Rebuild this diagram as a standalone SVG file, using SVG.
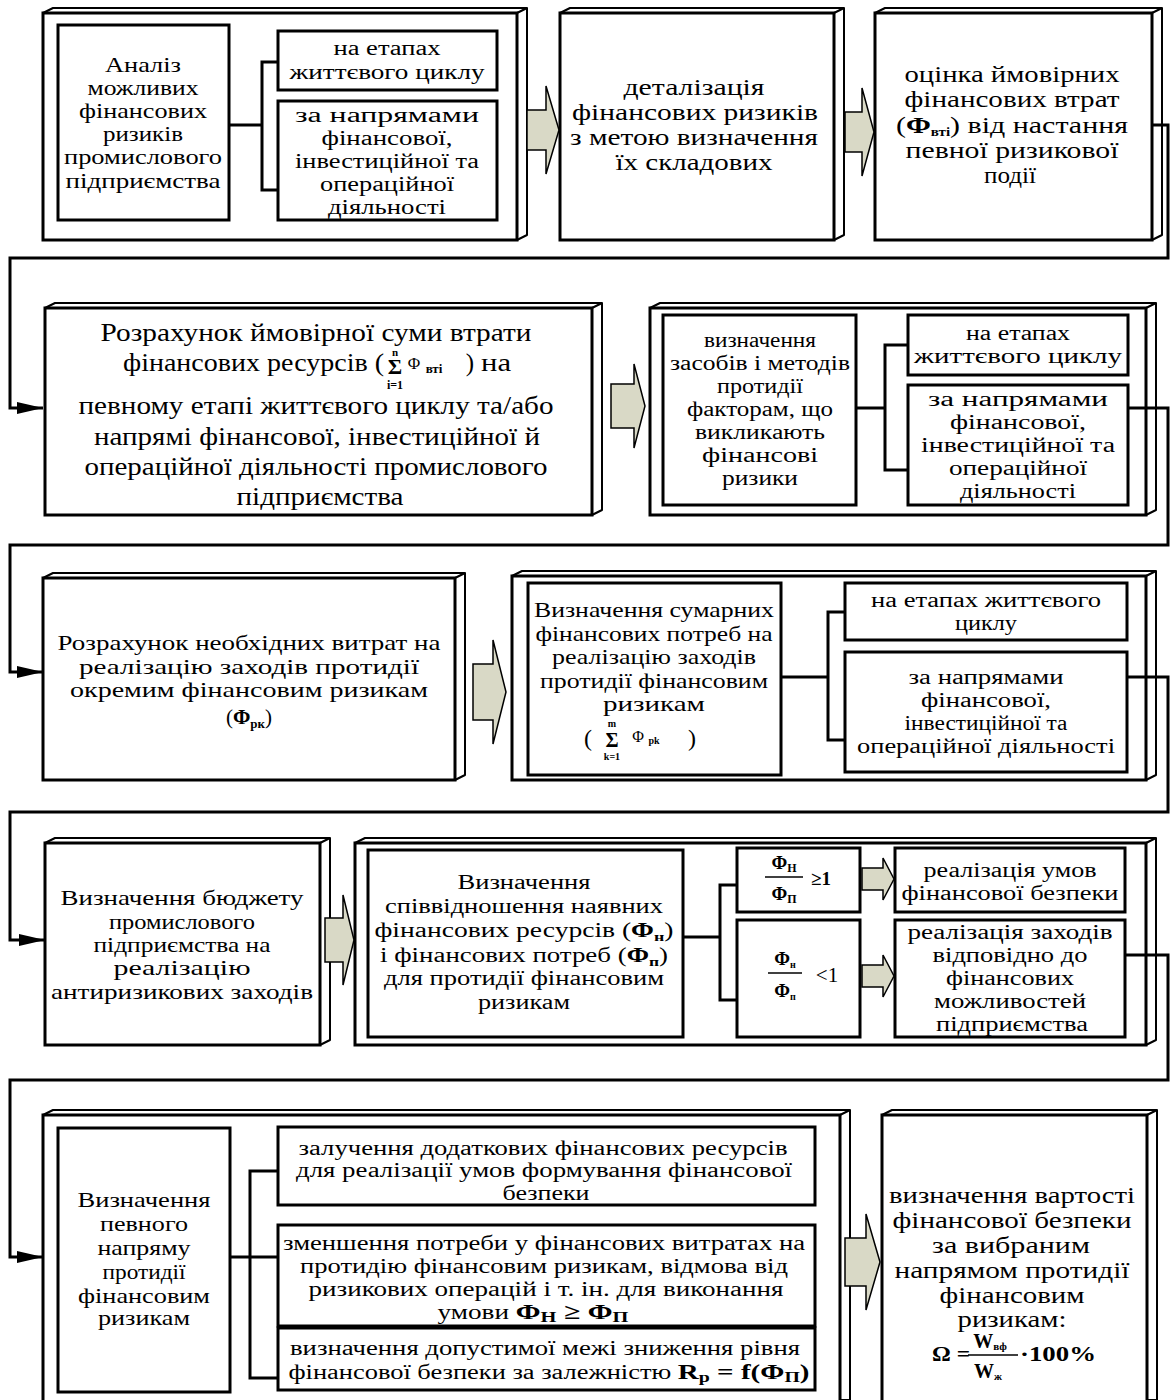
<svg xmlns="http://www.w3.org/2000/svg" width="1171" height="1400" viewBox="0 0 1171 1400" style="font-family:'Liberation Serif','Times New Roman',serif;font-size:20px;text-anchor:middle">
<style>
.fr{fill:#fff;stroke:#000;stroke-width:3}
.sd{fill:#fff;stroke:#000;stroke-width:2;stroke-linejoin:round}
.bx{fill:#fff;stroke:#000;stroke-width:3}
.cn{fill:none;stroke:#000;stroke-width:3}
.ba{fill:#d9d9c6;stroke:#000;stroke-width:1.5}
.fl{stroke:#000;stroke-width:1.5}
text{fill:#000}
.t21{font-size:21px}
.t22{font-size:22px}
.t23{font-size:23px}
.t24{font-size:24px}
.t25{font-size:25px}
.b{font-weight:bold}
.st{text-anchor:start}
.en{text-anchor:end}
</style>
<defs>
<marker id="ah" viewBox="0 0 26 12" refX="26" refY="6" markerWidth="26" markerHeight="12" markerUnits="userSpaceOnUse" orient="auto">
<path d="M0,0 L26,6 L0,12 Z" fill="#000"/>
</marker>
</defs>

<!-- Row 1 -->
<g id="boxA">
<path class="sd" d="M43,13 L53,8 H527 L517,13 Z M517,13 L527,8 V235 L517,240 Z"/>
<rect class="fr" x="43" y="13" width="474" height="227"/>
</g>
<g id="nodeA1">
<rect class="bx" x="58" y="25" width="171" height="195"/>
<text class="t21" x="143" y="72" textLength="76" lengthAdjust="spacingAndGlyphs">Аналіз</text>
<text class="t21" x="143" y="95" textLength="111" lengthAdjust="spacingAndGlyphs">можливих</text>
<text class="t21" x="143" y="118" textLength="128" lengthAdjust="spacingAndGlyphs">фінансових</text>
<text class="t21" x="143" y="141" textLength="80" lengthAdjust="spacingAndGlyphs">ризиків</text>
<text class="t21" x="143" y="164" textLength="158" lengthAdjust="spacingAndGlyphs">промислового</text>
<text class="t21" x="143" y="188" textLength="155" lengthAdjust="spacingAndGlyphs">підприємства</text>
</g>
<g id="nodeA2">
<rect class="bx" x="278" y="31" width="219" height="59"/>
<text x="387" y="55" textLength="107" lengthAdjust="spacingAndGlyphs">на етапах</text>
<text x="387" y="79" textLength="195" lengthAdjust="spacingAndGlyphs">життєвого циклу</text>
</g>
<g id="nodeA3">
<rect class="bx" x="278" y="101" width="219" height="119"/>
<text x="387" y="122" textLength="184" lengthAdjust="spacingAndGlyphs">за напрямами</text>
<text x="387" y="145" textLength="131" lengthAdjust="spacingAndGlyphs">фінансової,</text>
<text x="387" y="168" textLength="184" lengthAdjust="spacingAndGlyphs">інвестиційної та</text>
<text x="387" y="191" textLength="134" lengthAdjust="spacingAndGlyphs">операційної</text>
<text x="387" y="214" textLength="118" lengthAdjust="spacingAndGlyphs">діяльності</text>
</g>
<g id="nodeB">
<path class="sd" d="M560,13 L570,8 H844 L834,13 Z M834,13 L844,8 V235 L834,240 Z"/>
<rect class="fr" x="560" y="13" width="274" height="227"/>
<text class="t24" x="694" y="95" textLength="141" lengthAdjust="spacingAndGlyphs">деталізація</text>
<text class="t24" x="695" y="120" textLength="246" lengthAdjust="spacingAndGlyphs">фінансових ризиків</text>
<text class="t24" x="694" y="145" textLength="248" lengthAdjust="spacingAndGlyphs">з метою визначення</text>
<text class="t24" x="694" y="170" textLength="157" lengthAdjust="spacingAndGlyphs">їх складових</text>
</g>
<g id="nodeC">
<path class="sd" d="M875,13 L885,8 H1162 L1152,13 Z M1152,13 L1162,8 V235 L1152,240 Z"/>
<rect class="fr" x="875" y="13" width="277" height="227"/>
<text class="t24" x="1012" y="82" textLength="215" lengthAdjust="spacingAndGlyphs">оцінка ймовірних</text>
<text class="t24" x="1012" y="107" textLength="215" lengthAdjust="spacingAndGlyphs">фінансових втрат</text>
<text class="t24" x="1012" y="133" textLength="232" lengthAdjust="spacingAndGlyphs">(<tspan class="b">Φ</tspan><tspan class="b" font-size="12" dy="3">вті</tspan><tspan dy="-3">) від настання</tspan></text>
<text class="t24" x="1012" y="158" textLength="213" lengthAdjust="spacingAndGlyphs">певної ризикової</text>
<text class="t24" x="1010" y="183" textLength="52" lengthAdjust="spacingAndGlyphs">події</text>
</g>

<!-- Row 2 -->
<g id="nodeD">
<path class="sd" d="M45,308 L55,303 H602 L592,308 Z M592,308 L602,303 V510 L592,515 Z"/>
<rect class="fr" x="45" y="308" width="547" height="207"/>
<text class="t25" x="316" y="341" textLength="431" lengthAdjust="spacingAndGlyphs">Розрахунок ймовірної суми втрати</text>
<text class="t25 en" x="384" y="371" textLength="261" lengthAdjust="spacingAndGlyphs">фінансових ресурсів (</text>
<text class="b" x="395" y="374" style="font-size:22px">Σ</text>
<text class="b" x="395" y="356" style="font-size:11px">n</text>
<text class="b" x="395" y="389" style="font-size:12px">i=1</text>
<text x="414" y="369" style="font-size:17px">Φ</text>
<text class="b" x="434" y="373" style="font-size:13px">вті</text>
<text class="t25" x="470" y="371">)</text>
<text class="t25" x="496" y="371" textLength="30" lengthAdjust="spacingAndGlyphs">на</text>
<text class="t25" x="316" y="414" textLength="475" lengthAdjust="spacingAndGlyphs">певному етапі життєвого циклу та/або</text>
<text class="t25" x="317" y="445" textLength="446" lengthAdjust="spacingAndGlyphs">напрямі фінансової, інвестиційної й</text>
<text class="t25" x="316" y="475" textLength="463" lengthAdjust="spacingAndGlyphs">операційної діяльності промислового</text>
<text class="t25" x="320" y="505" textLength="167" lengthAdjust="spacingAndGlyphs">підприємства</text>
</g>
<g id="boxE">
<path class="sd" d="M650,308 L660,303 H1156 L1146,308 Z M1146,308 L1156,303 V510 L1146,515 Z"/>
<rect class="fr" x="650" y="308" width="496" height="207"/>
</g>
<g id="nodeE1">
<rect class="bx" x="663" y="315" width="193" height="190"/>
<text x="760" y="347" textLength="112" lengthAdjust="spacingAndGlyphs">визначення</text>
<text x="760" y="370" textLength="180" lengthAdjust="spacingAndGlyphs">засобів і методів</text>
<text x="760" y="393" textLength="86" lengthAdjust="spacingAndGlyphs">протидії</text>
<text x="760" y="416" textLength="146" lengthAdjust="spacingAndGlyphs">факторам, що</text>
<text x="760" y="439" textLength="130" lengthAdjust="spacingAndGlyphs">викликають</text>
<text x="760" y="462" textLength="116" lengthAdjust="spacingAndGlyphs">фінансові</text>
<text x="760" y="485" textLength="76" lengthAdjust="spacingAndGlyphs">ризики</text>
</g>
<g id="nodeE2">
<rect class="bx" x="908" y="315" width="220" height="60"/>
<text x="1018" y="340" textLength="104" lengthAdjust="spacingAndGlyphs">на етапах</text>
<text x="1018" y="363" textLength="208" lengthAdjust="spacingAndGlyphs">життєвого циклу</text>
</g>
<g id="nodeE3">
<rect class="bx" x="908" y="385" width="220" height="120"/>
<text x="1018" y="406" textLength="180" lengthAdjust="spacingAndGlyphs">за напрямами</text>
<text x="1018" y="429" textLength="136" lengthAdjust="spacingAndGlyphs">фінансової,</text>
<text x="1018" y="452" textLength="194" lengthAdjust="spacingAndGlyphs">інвестиційної та</text>
<text x="1018" y="475" textLength="138" lengthAdjust="spacingAndGlyphs">операційної</text>
<text x="1018" y="498" textLength="116" lengthAdjust="spacingAndGlyphs">діяльності</text>
</g>

<!-- Row 3 -->
<g id="nodeF">
<path class="sd" d="M43,578 L53,573 H465 L455,578 Z M455,578 L465,573 V775 L455,780 Z"/>
<rect class="fr" x="43" y="578" width="412" height="202"/>
<text class="t21" x="249" y="650" textLength="383" lengthAdjust="spacingAndGlyphs">Розрахунок необхідних витрат на</text>
<text class="t21" x="249" y="674" textLength="340" lengthAdjust="spacingAndGlyphs">реалізацію заходів протидії</text>
<text class="t21" x="249" y="697" textLength="358" lengthAdjust="spacingAndGlyphs">окремим фінансовим ризикам</text>
<text class="t21" x="249" y="724">(<tspan class="b">Φ</tspan><tspan class="b" font-size="13" dy="4">рк</tspan><tspan dy="-4">)</tspan></text>
</g>
<g id="boxG">
<path class="sd" d="M512,576 L522,571 H1156 L1146,576 Z M1146,576 L1156,571 V775 L1146,780 Z"/>
<rect class="fr" x="512" y="576" width="634" height="204"/>
</g>
<g id="nodeG1">
<rect class="bx" x="528" y="583" width="253" height="192"/>
<text class="t21" x="654" y="617" textLength="240" lengthAdjust="spacingAndGlyphs">Визначення сумарних</text>
<text class="t21" x="654" y="641" textLength="237" lengthAdjust="spacingAndGlyphs">фінансових потреб на</text>
<text class="t21" x="654" y="664" textLength="204" lengthAdjust="spacingAndGlyphs">реалізацію заходів</text>
<text class="t21" x="654" y="688" textLength="228" lengthAdjust="spacingAndGlyphs">протидії фінансовим</text>
<text class="t21" x="654" y="711" textLength="102" lengthAdjust="spacingAndGlyphs">ризикам</text>
<text x="588" y="746" style="font-size:24px">(</text>
<text class="b" x="612" y="747" style="font-size:20px">Σ</text>
<text class="b" x="612" y="727" style="font-size:10px">m</text>
<text class="b" x="612" y="760" style="font-size:10px">k=1</text>
<text x="638" y="742" style="font-size:16px">Φ</text>
<text class="b" x="654" y="744" style="font-size:10px">pk</text>
<text x="692" y="746" style="font-size:24px">)</text>
</g>
<g id="nodeG2">
<rect class="bx" x="845" y="583" width="282" height="57"/>
<text x="986" y="607" textLength="230" lengthAdjust="spacingAndGlyphs">на етапах життєвого</text>
<text x="986" y="630" textLength="62" lengthAdjust="spacingAndGlyphs">циклу</text>
</g>
<g id="nodeG3">
<rect class="bx" x="845" y="652" width="282" height="120"/>
<text x="986" y="684" textLength="155" lengthAdjust="spacingAndGlyphs">за напрямами</text>
<text x="986" y="707" textLength="130" lengthAdjust="spacingAndGlyphs">фінансової,</text>
<text x="986" y="730" textLength="163" lengthAdjust="spacingAndGlyphs">інвестиційної та</text>
<text x="986" y="753" textLength="258" lengthAdjust="spacingAndGlyphs">операційної діяльності</text>
</g>

<!-- Row 4 -->
<g id="nodeH">
<path class="sd" d="M45,843 L55,838 H330 L320,843 Z M320,843 L330,838 V1040 L320,1045 Z"/>
<rect class="fr" x="45" y="843" width="275" height="202"/>
<text class="t21" x="182" y="905" textLength="243" lengthAdjust="spacingAndGlyphs">Визначення бюджету</text>
<text class="t21" x="182" y="929" textLength="146" lengthAdjust="spacingAndGlyphs">промислового</text>
<text class="t21" x="182" y="952" textLength="177" lengthAdjust="spacingAndGlyphs">підприємства на</text>
<text class="t21" x="182" y="975" textLength="137" lengthAdjust="spacingAndGlyphs">реалізацію</text>
<text class="t21" x="182" y="999" textLength="262" lengthAdjust="spacingAndGlyphs">антиризикових заходів</text>
</g>
<g id="boxI">
<path class="sd" d="M355,843 L365,838 H1156 L1146,843 Z M1146,843 L1156,838 V1040 L1146,1045 Z"/>
<rect class="fr" x="355" y="843" width="791" height="202"/>
</g>
<g id="nodeI1">
<rect class="bx" x="368" y="850" width="315" height="187"/>
<text x="524" y="889" textLength="133" lengthAdjust="spacingAndGlyphs">Визначення</text>
<text x="524" y="913" textLength="278" lengthAdjust="spacingAndGlyphs">співвідношення наявних</text>
<text x="524" y="937" textLength="299" lengthAdjust="spacingAndGlyphs">фінансових ресурсів (<tspan class="b">Φ</tspan><tspan class="b" font-size="13" dy="4">н</tspan><tspan dy="-4">)</tspan></text>
<text x="524" y="962" textLength="288" lengthAdjust="spacingAndGlyphs">і фінансових потреб (<tspan class="b">Φ</tspan><tspan class="b" font-size="13" dy="4">п</tspan><tspan dy="-4">)</tspan></text>
<text x="524" y="985" textLength="280" lengthAdjust="spacingAndGlyphs">для протидії фінансовим</text>
<text x="524" y="1009" textLength="92" lengthAdjust="spacingAndGlyphs">ризикам</text>
</g>
<g id="nodeI2">
<rect class="bx" x="737" y="848" width="123" height="64"/>
<text class="b" x="784" y="869" style="font-size:19px">Φ<tspan font-size="12" dy="3">Н</tspan></text>
<line class="fl" x1="765" y1="877" x2="803" y2="877"/>
<text class="b" x="784" y="900" style="font-size:19px">Φ<tspan font-size="12" dy="3">П</tspan></text>
<text class="b" x="821" y="885" style="font-size:19px">≥1</text>
</g>
<g id="nodeI3">
<rect class="bx" x="737" y="920" width="123" height="117"/>
<text class="b" x="785" y="965" style="font-size:19px">Φ<tspan font-size="10" dy="3">н</tspan></text>
<line class="fl" x1="768" y1="973" x2="802" y2="973"/>
<text class="b" x="785" y="997" style="font-size:19px">Φ<tspan font-size="10" dy="3">п</tspan></text>
<text x="827" y="982" style="font-size:21px">&lt;1</text>
</g>
<g id="nodeI4">
<rect class="bx" x="895" y="848" width="230" height="64"/>
<text x="1010" y="877" textLength="173" lengthAdjust="spacingAndGlyphs">реалізація умов</text>
<text x="1010" y="900" textLength="217" lengthAdjust="spacingAndGlyphs">фінансової безпеки</text>
</g>
<g id="nodeI5">
<rect class="bx" x="895" y="920" width="230" height="117"/>
<text x="1010" y="939" textLength="205" lengthAdjust="spacingAndGlyphs">реалізація заходів</text>
<text x="1010" y="962" textLength="155" lengthAdjust="spacingAndGlyphs">відповідно до</text>
<text x="1010" y="985" textLength="128" lengthAdjust="spacingAndGlyphs">фінансових</text>
<text x="1010" y="1008" textLength="152" lengthAdjust="spacingAndGlyphs">можливостей</text>
<text x="1012" y="1031" textLength="152" lengthAdjust="spacingAndGlyphs">підприємства</text>
</g>

<!-- Row 5 -->
<g id="boxJ">
<path class="sd" d="M43,1115 L53,1110 H850 L840,1115 Z M840,1115 L850,1110 V1400 L840,1400 Z"/>
<rect class="fr" x="43" y="1115" width="797" height="290"/>
</g>
<g id="nodeJ1">
<rect class="bx" x="58" y="1128" width="172" height="264"/>
<text class="t21" x="144" y="1207" textLength="133" lengthAdjust="spacingAndGlyphs">Визначення</text>
<text class="t21" x="144" y="1231" textLength="88" lengthAdjust="spacingAndGlyphs">певного</text>
<text class="t21" x="144" y="1255" textLength="93" lengthAdjust="spacingAndGlyphs">напряму</text>
<text class="t21" x="144" y="1279" textLength="83" lengthAdjust="spacingAndGlyphs">протидії</text>
<text class="t21" x="144" y="1303" textLength="132" lengthAdjust="spacingAndGlyphs">фінансовим</text>
<text class="t21" x="144" y="1325" textLength="92" lengthAdjust="spacingAndGlyphs">ризикам</text>
</g>
<g id="nodeJ2">
<rect class="bx" x="278" y="1127" width="537" height="78"/>
<text x="543" y="1155" textLength="489" lengthAdjust="spacingAndGlyphs">залучення додаткових фінансових ресурсів</text>
<text x="544" y="1177" textLength="496" lengthAdjust="spacingAndGlyphs">для реалізації умов формування фінансової</text>
<text x="546" y="1200" textLength="87" lengthAdjust="spacingAndGlyphs">безпеки</text>
</g>
<g id="nodeJ3">
<rect class="bx" x="278" y="1225" width="537" height="101"/>
<text x="544" y="1250" textLength="522" lengthAdjust="spacingAndGlyphs">зменшення потреби у фінансових витратах на</text>
<text x="544" y="1273" textLength="488" lengthAdjust="spacingAndGlyphs">протидію фінансовим ризикам, відмова від</text>
<text x="546" y="1296" textLength="475" lengthAdjust="spacingAndGlyphs">ризикових операцій і т. ін. для виконання</text>
<text x="533" y="1319" textLength="191" lengthAdjust="spacingAndGlyphs">умови <tspan class="b" font-size="22">Φ</tspan><tspan class="b" font-size="15" dy="3">Н</tspan><tspan class="b" font-size="22" dy="-3"> ≥ Φ</tspan><tspan class="b" font-size="15" dy="3">П</tspan></text>
</g>
<g id="nodeJ4">
<rect class="bx" x="278" y="1328" width="537" height="62"/>
<text x="545" y="1355" textLength="510" lengthAdjust="spacingAndGlyphs">визначення допустимої межі зниження рівня</text>
<text x="549" y="1379" textLength="521" lengthAdjust="spacingAndGlyphs">фінансової безпеки за залежністю <tspan class="b" font-size="22">R</tspan><tspan class="b" font-size="15" dy="3">p</tspan><tspan class="b" font-size="22" dy="-3"> = f(Φ</tspan><tspan class="b" font-size="15" dy="3">П</tspan><tspan class="b" font-size="22" dy="-3">)</tspan></text>
</g>
<g id="nodeK">
<path class="sd" d="M882,1115 L892,1110 H1157 L1147,1115 Z M1147,1115 L1157,1110 V1400 L1147,1400 Z"/>
<rect class="fr" x="882" y="1115" width="265" height="290"/>
<text class="t23" x="1012" y="1203" textLength="246" lengthAdjust="spacingAndGlyphs">визначення вартості</text>
<text class="t23" x="1012" y="1228" textLength="239" lengthAdjust="spacingAndGlyphs">фінансової безпеки</text>
<text class="t23" x="1011" y="1253" textLength="158" lengthAdjust="spacingAndGlyphs">за вибраним</text>
<text class="t23" x="1012" y="1278" textLength="235" lengthAdjust="spacingAndGlyphs">напрямом протидії</text>
<text class="t23" x="1012" y="1303" textLength="145" lengthAdjust="spacingAndGlyphs">фінансовим</text>
<text class="t23" x="1012" y="1327" textLength="109" lengthAdjust="spacingAndGlyphs">ризикам:</text>
<text class="b st" x="932" y="1361" style="font-size:20px" textLength="38" lengthAdjust="spacingAndGlyphs">Ω =</text>
<text class="b" x="990" y="1348" style="font-size:20px">W<tspan font-size="11" dy="2">вф</tspan></text>
<line class="fl" x1="968" y1="1355" x2="1018" y2="1355"/>
<text class="b" x="988" y="1378" style="font-size:20px">W<tspan font-size="11" dy="2">ж</tspan></text>
<text class="b st" x="1020" y="1361" style="font-size:20px" textLength="76" lengthAdjust="spacingAndGlyphs">·100%</text>
</g>

<!-- connectors -->
<g id="connectors">
<path class="cn" d="M1152,125 H1168 V258 H10 V408 H43" marker-end="url(#ah)"/>
<path class="cn" d="M1128,408 H1168 V545 H10 V672 H43" marker-end="url(#ah)"/>
<path class="cn" d="M1127,677 H1168 V812 H10 V940 H45" marker-end="url(#ah)"/>
<path class="cn" d="M1125,955 H1168 V1080 H10 V1257 H43" marker-end="url(#ah)"/>
<path class="cn" d="M229,125 H262 M278,62 H262 V190 H278"/>
<path class="cn" d="M856,408 H885 M908,345 H885 V470 H908"/>
<path class="cn" d="M781,677 H828 M845,612 H828 V740 H845"/>
<path class="cn" d="M683,937 H720 M737,885 H720 V1000 H737"/>
<path class="cn" d="M230,1257 H250 M278,1171 H250 V1378 H278 M250,1257 H278"/>
<path class="ba" d="M527,110 H546 V86 L559,130 L546,174 V150 H527 Z"/>
<path class="ba" d="M845,112 H862 V88 L874,132 L862,176 V152 H845 Z"/>
<path class="ba" d="M611,384 H634 V364 L645,406 L634,448 V428 H611 Z"/>
<path class="ba" d="M473,664 H493 V640 L506,692 L493,744 V720 H473 Z"/>
<path class="ba" d="M325,918 H343 V895 L354,940 L343,985 V962 H325 Z"/>
<path class="ba" d="M845,1238 H866 V1214 L880,1262 L866,1310 V1286 H845 Z"/>
<path class="ba" d="M862,868 H883 V858 L894,879 L883,900 V890 H862 Z"/>
<path class="ba" d="M862,965 H883 V955 L894,976 L883,997 V987 H862 Z"/>
</g>
</svg>
